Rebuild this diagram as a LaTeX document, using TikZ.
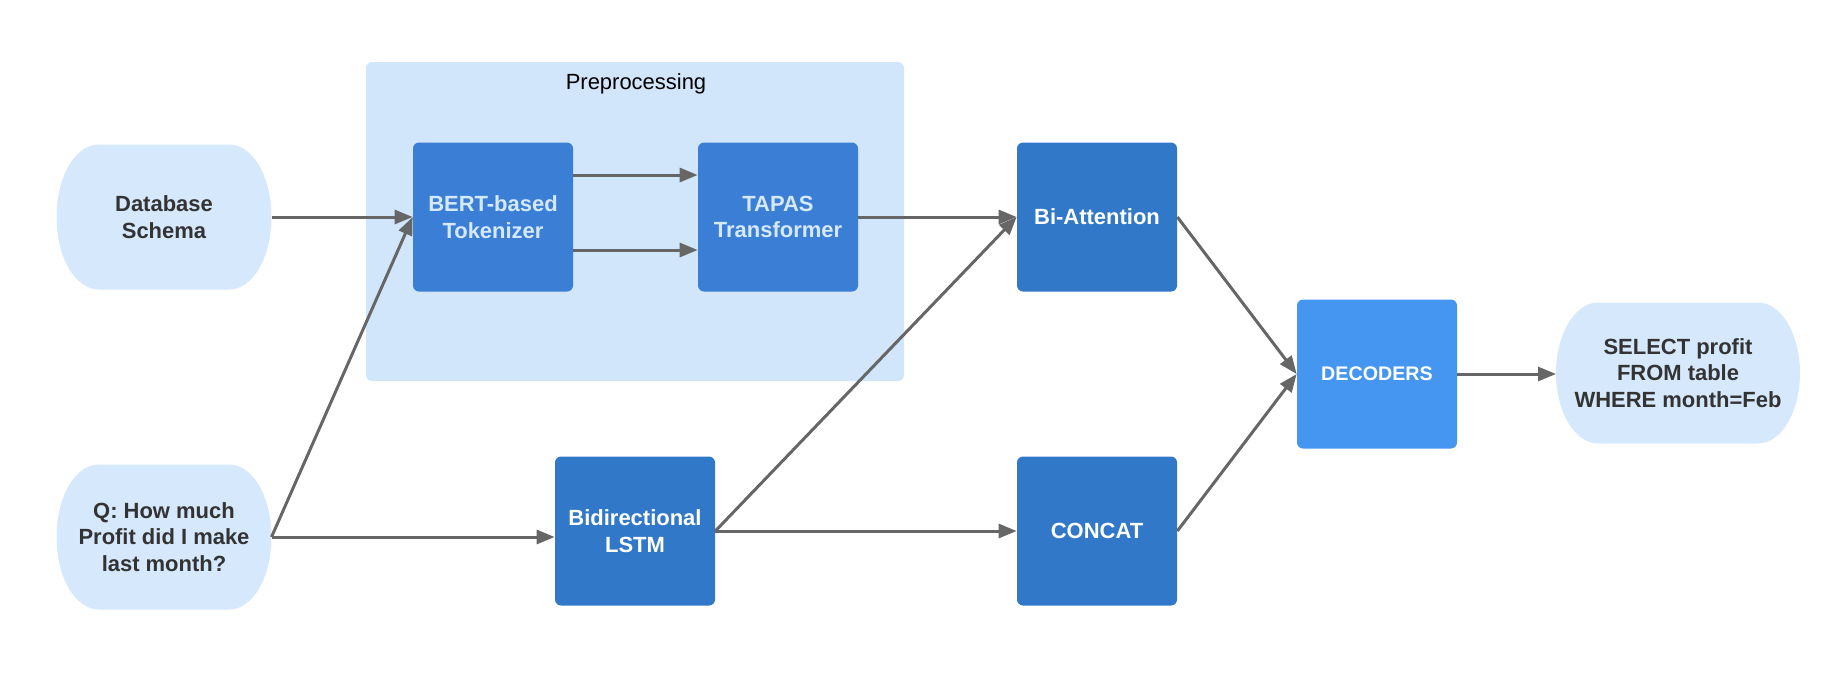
\documentclass[tikz,border=0pt]{standalone}
\usepackage{fontspec}
\setmainfont{Liberation Sans}
\usetikzlibrary{arrows.meta,backgrounds}
\definecolor{prebg}{HTML}{D1E5FB}
\definecolor{ovalbg}{HTML}{D6E8FC}
\definecolor{boxblue}{HTML}{3A7FD5}
\definecolor{darkblue}{HTML}{3278C8}
\definecolor{decblue}{HTML}{4596F0}
\definecolor{arrowgray}{HTML}{666666}
\definecolor{textdark}{HTML}{333333}
\tikzset{
  txt/.style={font=\fontsize{12.5}{15.2}\selectfont\bfseries, align=center},
  oval/.style={txt, text=textdark, inner sep=0pt, outer sep=0pt},
  block/.style={txt, rounded corners=0.12cm, minimum width=3.2cm, minimum height=2.98cm, inner sep=0pt},
  arr/.style={draw=arrowgray, line width=1.7pt, -{Triangle[length=0.36cm,width=0.28cm]}}
}
% light oval behind a node: #1 = node, #2 = half height
\newcommand{\ovalfill}[2]{%
  \fill[ovalbg] ([xshift=0.84cm]#1.north west) -- ([xshift=-0.84cm]#1.north east)
    arc[start angle=90, end angle=-90, x radius=0.84cm, y radius=#2]
    -- ([xshift=0.84cm]#1.south west)
    arc[start angle=270, end angle=90, x radius=0.84cm, y radius=#2] -- cycle;}
\begin{document}
\begin{tikzpicture}
    \useasboundingbox (0,0) rectangle (36.92,-13.44);
    % preprocessing stage
    \fill[prebg,rounded corners=0.12cm] (7.32,-1.24) rectangle (18.08,-7.62);
    \node[font=\fontsize{12.5}{15.2}\selectfont] (pretitle) at (12.72,-1.68) {Preprocessing};
    % inputs
    \node[oval,minimum width=4.3cm,minimum height=2.9cm] (db) at (3.28,-4.34) {Database\\Schema};
    \node[oval,minimum width=4.3cm,minimum height=2.9cm] (q) at (3.28,-10.74) {Q: How much\\Profit did I make\\last month?};
    % model blocks
    \node[block,fill=boxblue,text=ovalbg] (bert) at (9.86,-4.34) {BERT-based\\Tokenizer};
    \node[block,fill=boxblue,text=ovalbg] (tapas) at (15.56,-4.34) {TAPAS\\Transformer};
    \node[block,fill=darkblue,text=white] (biatt) at (21.94,-4.34) {Bi-Attention};
    \node[block,fill=darkblue,text=white] (lstm) at (12.70,-10.62) {Bidirectional\\LSTM};
    \node[block,fill=darkblue,text=white] (concat) at (21.94,-10.62) {CONCAT};
    \node[block,fill=decblue,text=white,font=\fontsize{11.2}{13.4}\selectfont\bfseries] (dec) at (27.54,-7.48) {DECODERS};
    % output
    \node[oval,minimum width=4.88cm,minimum height=2.82cm] (sel) at (33.56,-7.46) {SELECT profit\\FROM table\\WHERE month=Feb};
    \begin{scope}[on background layer]
      \ovalfill{db}{1.45cm}
      \ovalfill{q}{1.45cm}
      \ovalfill{sel}{1.41cm}
    \end{scope}
    % connectors
    \draw[arr] (db.east) -- (bert.west);
    \draw[arr] (q.east) -- (bert.west);
    \draw[arr] (q.east) -- (q.east -| lstm.west);
    \draw[arr] ([yshift=0.84cm]bert.east) -- ([yshift=0.84cm]tapas.west);
    \draw[arr] ([yshift=-0.66cm]bert.east) -- ([yshift=-0.66cm]tapas.west);
    \draw[arr] (tapas.east) -- (biatt.west);
    \draw[arr] (lstm.east) -- (biatt.west);
    \draw[arr] (lstm.east) -- (concat.west);
    \draw[arr] (biatt.east) -- (dec.west);
    \draw[arr] (concat.east) -- (dec.west);
    \draw[arr] (dec.east) -- (dec.east -| sel.west);
\end{tikzpicture}
\end{document}
